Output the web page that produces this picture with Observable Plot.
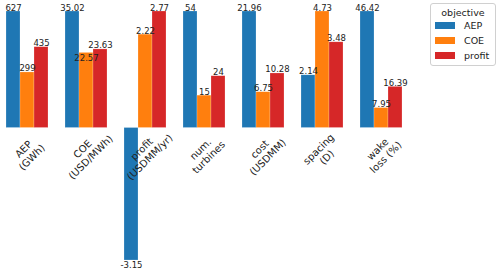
<!DOCTYPE html>
<html><head><meta charset="utf-8">
<script src="https://cdn.jsdelivr.net/npm/d3@7"></script>
<script src="https://cdn.jsdelivr.net/npm/@observablehq/plot@0.6"></script>
<style>
body{margin:0;background:#fff;font-family:"DejaVu Sans",sans-serif;}
#wrap{position:relative;width:500px;height:270px;}
#legend{position:absolute;left:430px;top:3px;width:66px;height:63px;border:1px solid #d0d0d0;border-radius:3px;background:#fff;font-size:9.5px;color:#222;box-sizing:border-box;}
#legend .t{position:absolute;top:3px;left:0;width:100%;text-align:center;}
#legend .r{position:absolute;left:4px;height:12px;line-height:12px;}
#legend .s{display:inline-block;width:20px;height:7px;vertical-align:middle;margin-right:9px;margin-top:-2px;}
</style></head>
<body><div id="wrap"><div id="chart"></div><div id="legend"></div></div>
<script>
const metrics = ["AEP\n(GWh)", "COE\n(USD/MWh)", "profit\n(USDMM/yr)", "num.\nturbines", "cost\n(USDMM)", "spacing\n(D)", "wake\nloss (%)"];
const objectives = ["AEP", "COE", "profit"];
const colors = ["#1f77b4", "#ff7f0e", "#d62728"];
const aepValues    = [627, 35.02, -3.15, 54, 21.96, 2.14, 46.42];
const coeValues    = [299, 22.57, 2.22, 15, 6.75, 4.73, 7.95];
const profitValues = [435, 23.63, 2.77, 24, 10.28, 3.48, 16.39];
const aepLabels    = ["627","35.02","-3.15","54","21.96","2.14","46.42"];
const coeLabels    = ["299","22.57","2.22","15","6.75","4.73","7.95"];
const profitLabels = ["435","23.63","2.77","24","10.28","3.48","16.39"];

const series = {AEP: aepValues, COE: coeValues, profit: profitValues};
const labels = {AEP: aepLabels, COE: coeLabels, profit: profitLabels};
const rows = [];
metrics.forEach((m, i) => {
  const mx = Math.max(aepValues[i], coeValues[i], profitValues[i]);
  const group = objectives.map(o => {
    const v = series[o][i];
    return {metric: m, objective: o, value: v, norm: v / mx, label: labels[o][i], shift: 0};
  });
  // push a label down onto its bar when it would collide with its right neighbour's label
  for (let k = 0; k < group.length - 1; k++) {
    const a = group[k], b = group[k + 1];
    if (a.norm >= 0 && b.norm >= 0 && Math.abs(a.norm - b.norm) * 116 < 9) {
      (a.norm < b.norm ? a : b).shift = 9;
    }
  }
  rows.push(...group);
});

const chart = Plot.plot({
  width: 500, height: 270,
  marginLeft: 4, marginRight: 96, marginTop: 11, marginBottom: 10,
  style: {fontFamily: "DejaVu Sans, sans-serif", background: "#fff"},
  fx: {domain: metrics, paddingInner: 0.25, paddingOuter: 0, axis: null, label: null},
  x: {domain: objectives, padding: 0, axis: null},
  y: {domain: [-3.15/2.77, 1], axis: null},
  color: {domain: objectives, range: colors},
  marks: [
    Plot.barY(rows, {fx: "metric", x: "objective", y: "norm", fill: "objective", stroke: "#ffffff", strokeOpacity: 0.35, strokeWidth: 0.6}),
    Plot.text(rows, {fx: "metric", x: "objective", y: "norm", text: "label", fontSize: 8.5, fill: "#222",
      lineAnchor: "bottom", filter: d => d.norm >= 0 && d.shift === 0, dy: -1}),
    Plot.text(rows, {fx: "metric", x: "objective", y: "norm", text: "label", fontSize: 8.5, fill: "#222",
      lineAnchor: "bottom", filter: d => d.norm >= 0 && d.shift > 0, dy: 8}),
    Plot.text(rows, {fx: "metric", x: "objective", y: "norm", text: "label", fontSize: 8.5, fill: "#222",
      lineAnchor: "top", filter: d => d.norm < 0, dy: 1}),
    Plot.text(metrics, {fx: d => d, y: () => 0, text: d => d, rotate: -45, fontSize: 10, fill: "#222",
      textAnchor: "middle", lineAnchor: "middle", dy: 25, lineHeight: 1.15})
  ]
});
document.getElementById("chart").appendChild(chart);

const lg = document.getElementById("legend");
let html = '<div class="t">objective</div>';
objectives.forEach((o, i) => {
  html += `<div class="r" style="top:${16 + i*15}px"><span class="s" style="background:${colors[i]}"></span>${o}</div>`;
});
lg.innerHTML = html;
</script></body></html>
